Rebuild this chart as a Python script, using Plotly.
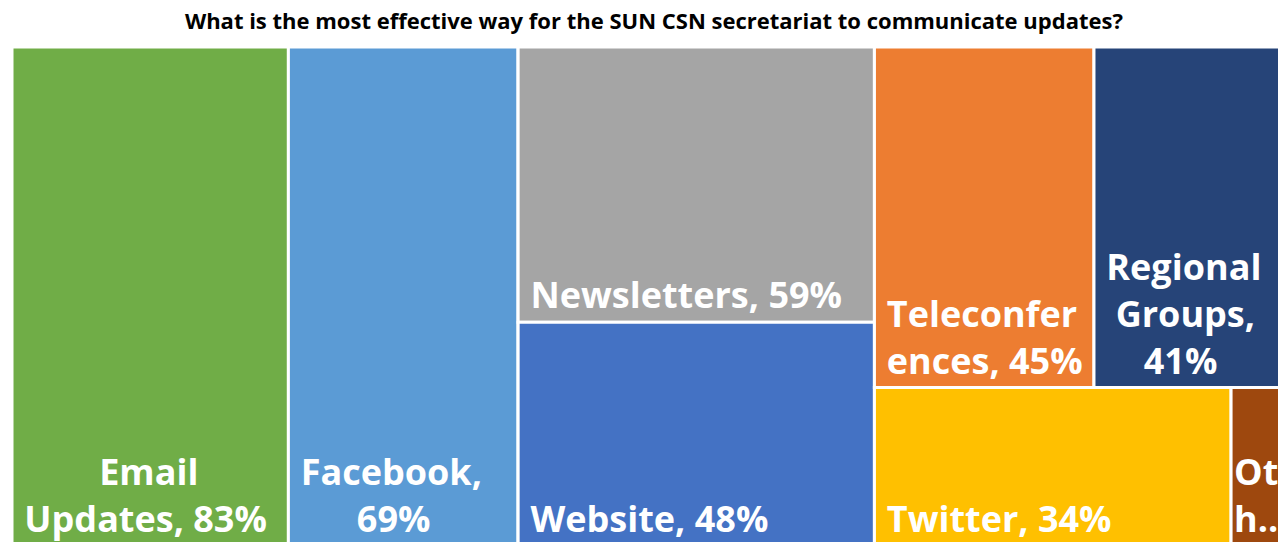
import plotly.graph_objects as go

# ---- data ----
labels = ["Email Updates", "Facebook", "Newsletters", "Website",
          "Teleconferences", "Regional Groups", "Twitter", "Other"]
values = [83, 69, 59, 48, 45, 41, 34, 6]
# visible label lines as shown on the tiles (Excel wraps / truncates)
shown_lines = [["Email", "Updates, 83%"], ["Facebook,", "69%"], ["Newsletters, 59%"],
               ["Website, 48%"], ["Teleconfer", "ences, 45%"], ["Regional", "Groups,", "41%"],
               ["Twitter, 34%"], ["Ot", "h..."]]
# small indents (in spaces) so short lines sit centred under longer ones, as in the original
indents = [[9, 1], [1, 7], [1], [1], [1, 1], [1, 2, 5], [1], [0, 0]]
colors = ["#70AD47", "#5B9BD5", "#A5A5A5", "#4472C4",
          "#ED7D31", "#264478", "#FFC000", "#9E480E"]
# layout grouping (column group / row group) used by the tiling
group_of = ["", "", "col3", "col3", "row4a", "row4a", "row4b", "row4b"]
group_parent = {"col3": "", "col4": "", "row4a": "col4", "row4b": "col4"}

title = "What is the most effective way for the SUN CSN secretariat to communicate updates?"

NB = "\u00a0"
shown = ["<br>".join(NB * k + ln for ln, k in zip(lines, ind))
         for lines, ind in zip(shown_lines, indents)]

# ---- build hierarchy ----
ids, pars, vals, texts, cols = [], [], [], [], []
ROOT = "root"

def gsum(g):
    s = sum(v for v, gg in zip(values, group_of) if gg == g)
    s += sum(gsum(c) for c, p in group_parent.items() if p == g)
    return s

ids.append(ROOT); pars.append(""); vals.append(sum(values)); texts.append(""); cols.append("rgba(0,0,0,0)")

def add_group(g):
    ids.append(g); pars.append(group_parent[g] or ROOT); vals.append(gsum(g))
    texts.append(""); cols.append("rgba(0,0,0,0)")

entries = list(zip(labels, values, shown, colors, group_of))

def add_items(grp, parent):
    for lab, v, t, c, g in entries:
        if g == grp:
            ids.append(lab); pars.append(parent); vals.append(v); texts.append(t); cols.append(c)

add_items("", ROOT)
add_group("col3"); add_items("col3", "col3")
add_group("col4")
for rg in ["row4a", "row4b"]:
    add_group(rg); add_items(rg, rg)

fig = go.Figure(go.Treemap(
    ids=ids, labels=ids, parents=pars, values=vals,
    branchvalues="total", sort=False,
    text=texts, texttemplate="%{text}", textinfo="text",
    textposition="bottom left",
    marker=dict(colors=cols, line=dict(color="white", width=3),
                pad=dict(t=0, l=0, r=0, b=0)),
    tiling=dict(packing="slice-dice", pad=0),
    pathbar=dict(visible=False),
    textfont=dict(family="Open Sans", size=36, color="white", weight="bold"),
    hoverinfo="skip",
    root=dict(color="rgba(0,0,0,0)"),
))

H = 560
fig.update_layout(
    width=1300, height=H,
    margin=dict(l=12, r=6, t=47, b=14),
    paper_bgcolor="white",
    title=dict(text=title, x=0.503, xanchor="center", y=1 - 21 / H, yanchor="middle",
               yref="container",
               font=dict(family="Open Sans", size=22, color="black", weight="bold")),
)

fig.write_html("out.html", config={"displayModeBar": False}, post_script=(
    "document.documentElement.style.overflow='hidden';"
    "document.body.style.overflow='hidden';"
    "document.body.style.margin='0';"))
